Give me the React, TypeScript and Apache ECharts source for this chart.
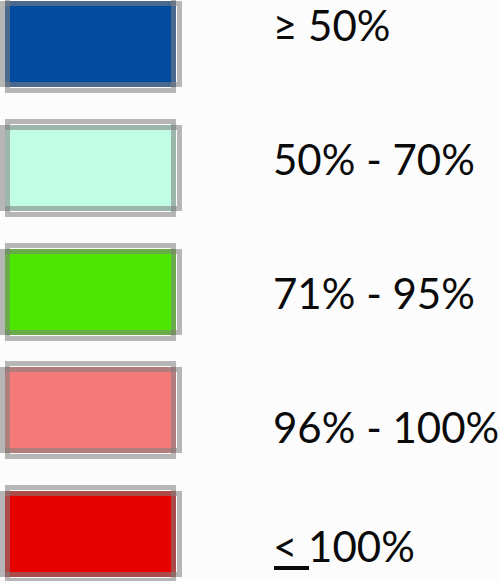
import React, { useEffect, useRef } from "react";
import * as echarts from "echarts";

const labels = ["≥ 50%", "50% - 70%", "71% - 95%", "96% - 100%", "< 100%"];
const colors = ["#014ba0", "#c0fce6", "#4ce600", "#f47a7a", "#e60000"];

// layout
const boxTops = [1, 125, 249, 367, 491];
const textBottoms = [46, 180, 314, 448, 567];
const TEXT_X = 273;
const FONT = 42;

export default function App() {
  const ref = useRef<HTMLDivElement>(null);
  useEffect(() => {
    if (!ref.current) return;
    const chart = echarts.init(ref.current, null, { renderer: "svg" });
    const strokeColor = "rgba(128,128,128,0.57)";
    const elements: any[] = [];
    labels.forEach((lab, i) => {
      const t = boxTops[i];
      elements.push({
        type: "rect",
        shape: { x: 5, y: t, width: 171, height: 86 },
        style: { fill: colors[i] },
      });
      elements.push({
        type: "rect",
        shape: { x: 2.5, y: t + 2.5, width: 177, height: 81 },
        style: { fill: "none", stroke: strokeColor, lineWidth: 5 },
      });
      elements.push({
        type: "rect",
        shape: { x: 7.5, y: t - 3.5, width: 166, height: 93 },
        style: { fill: "none", stroke: strokeColor, lineWidth: 5 },
      });
      elements.push({
        type: "text",
        x: TEXT_X,
        y: textBottoms[i],
        style: {
          text: lab,
          fontFamily: "Lato",
          fontSize: FONT,
          fill: "#0a0a0a",
          textAlign: "left",
          textVerticalAlign: "bottom",
        },
      });
    });
    elements.push({
      type: "line",
      shape: { x1: 274, y1: 568, x2: 309, y2: 568 },
      style: { stroke: "#0a0a0a", lineWidth: 4 },
    });
    chart.setOption({
      animation: false,
      backgroundColor: "#fcfcfc",
      graphic: { elements },
    });
    return () => chart.dispose();
  }, []);
  return (
    <div
      ref={ref}
      style={{ width: 500, height: 581, position: "absolute", left: 0, top: 0 }}
    />
  );
}
